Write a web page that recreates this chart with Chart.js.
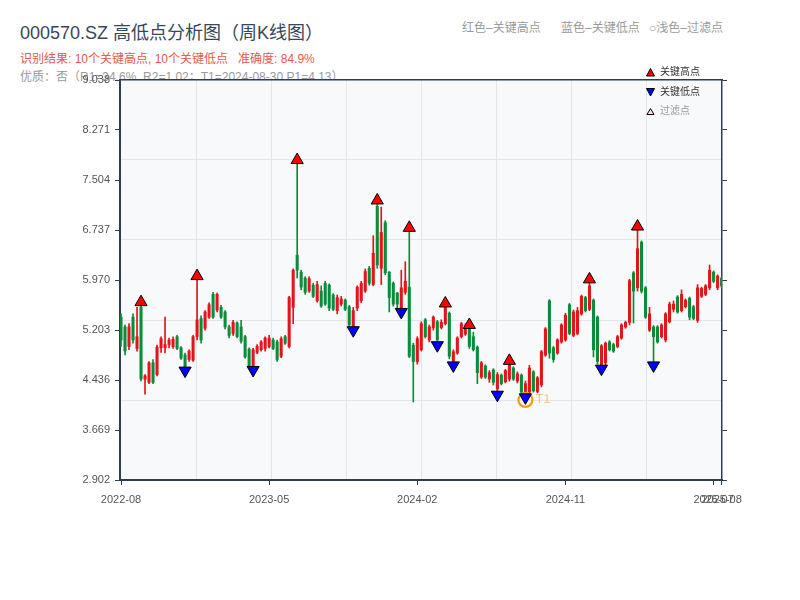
<!DOCTYPE html>
<html>
<head>
<meta charset="utf-8">
<script src="https://cdn.jsdelivr.net/npm/chart.js@4.4.1/dist/chart.umd.min.js"></script>
<style>
  html, body { margin:0; padding:0; background:#fff; }
  #wrap { position:relative; width:800px; height:600px; overflow:hidden;
          font-family:"Liberation Sans","Noto Sans CJK SC",sans-serif; }
  #c { position:absolute; left:0; top:0; z-index:1; }
  .t { position:absolute; white-space:pre; z-index:0; }
  .lg { position:absolute; white-space:pre; z-index:2; font-size:10px; line-height:12px; }
  .lg svg { position:absolute; left:0; top:2px; }
  .lg span { position:absolute; left:14px; top:0; }
</style>
</head>
<body>
<div id="wrap">
  <div class="t" style="left:20px;top:23px;font-size:18px;line-height:20px;color:#37475a;">000570.SZ 高低点分析图（周K线图）</div>
  <div class="t" style="left:20px;top:52px;font-size:12px;line-height:14px;color:#e8584c;">识别结果: 10个关键高点, 10个关键低点   准确度: 84.9%</div>
  <div class="t" style="left:20px;top:70px;font-size:12px;line-height:14px;color:#9a9a9a;">优质：否（R1=34.6%, R2=1.02；T1=2024-08-30 P1=4.13）</div>
  <div class="t" style="left:462px;top:21px;font-size:12px;line-height:14px;color:#9a9a9a;">红色–关键高点</div>
  <div class="t" style="left:561px;top:21px;font-size:12px;line-height:14px;color:#9a9a9a;">蓝色–关键低点</div>
  <div class="t" style="left:649px;top:21px;font-size:12px;line-height:14px;color:#9a9a9a;">○浅色–过滤点</div>
  <canvas id="c" width="800" height="600"></canvas>
  <div class="lg" style="left:646px;top:66px;width:70px;height:12px;">
    <svg width="9" height="9"><polygon points="4.5,0.5 8.5,8 0.5,8" fill="#ff0000" stroke="#000" stroke-width="1"/></svg>
    <span style="color:#333;">关键高点</span></div>
  <div class="lg" style="left:646px;top:86px;width:70px;height:12px;">
    <svg width="9" height="9"><polygon points="0.5,0.5 8.5,0.5 4.5,8" fill="#0000ff" stroke="#000" stroke-width="1"/></svg>
    <span style="color:#333;">关键低点</span></div>
  <div class="lg" style="left:646px;top:105px;width:70px;height:12px;">
    <svg width="9" height="9"><polygon points="4.5,1.5 8,7.5 1,7.5" fill="#ffe0e0" stroke="#000" stroke-width="1"/></svg>
    <span style="color:#999;">过滤点</span></div>
</div>
<script>
// ---- weekly candles (index 0 = week of 2022-08-05) ----
const opens = [
5.40,5.25,4.95,5.40,4.92,5.55,4.45,4.40,4.70,4.52,
4.93,4.93,4.98,4.95,5.10,4.93,4.82,4.75,4.74,5.10,
5.38,5.23,5.40,5.75,5.51,5.55,5.48,5.25,5.15,5.31,
5.25,5.10,4.91,4.65,4.86,4.90,4.92,4.95,5.05,5.02,
4.80,5.10,4.95,5.55,6.35,6.09,6.00,5.80,5.89,5.65,
5.80,5.92,5.89,5.74,5.50,5.60,5.66,5.56,5.20,5.54,
5.65,5.80,6.15,5.90,7.10,6.15,6.85,6.09,5.92,5.77,
5.52,5.78,5.86,4.97,4.72,4.90,5.36,5.05,5.24,5.33,
5.24,5.30,5.46,4.72,4.85,5.10,5.14,5.23,5.10,4.94,
4.48,4.65,4.45,4.59,4.30,4.51,4.41,4.45,4.62,4.42,
4.51,4.18,4.25,4.56,4.26,4.36,4.82,5.65,4.93,4.85,
5.02,5.05,5.59,5.12,5.15,5.45,5.70,5.52,5.66,5.40,
4.66,4.70,5.02,4.98,4.95,5.08,5.25,5.32,6.08,5.85,
6.55,5.85,5.20,5.25,5.25,5.10,5.05,5.33,5.52,5.71,
5.50,5.56,5.69,5.56,5.35,5.72,5.75,5.85,6.09,5.85,
6.00];
const closes = [
5.05,4.88,5.25,5.05,5.10,4.45,4.50,4.70,4.40,4.94,
5.07,4.98,5.05,5.06,4.92,4.77,4.62,4.88,5.10,5.36,
5.05,5.48,5.59,5.40,5.75,5.40,5.25,5.12,5.32,5.10,
5.03,4.79,4.65,4.90,4.95,5.02,5.08,5.08,4.92,4.75,
5.07,5.00,5.70,6.12,6.12,5.86,5.78,5.99,5.72,5.90,
5.57,5.60,5.54,5.52,5.70,5.68,5.52,5.28,5.50,5.86,
5.92,6.10,5.92,6.38,6.20,6.70,6.08,5.70,5.60,5.60,
5.85,5.95,4.80,4.72,5.07,5.30,5.10,5.25,5.40,5.05,
5.32,5.55,4.80,4.87,5.08,5.30,5.27,4.95,4.90,4.55,
4.70,4.48,4.55,4.40,4.52,4.38,4.58,4.66,4.45,4.53,
4.25,4.38,4.62,4.27,4.47,4.87,5.22,4.85,4.75,5.05,
5.28,5.43,5.15,5.48,5.50,5.72,5.50,5.88,4.90,4.72,
4.96,5.00,4.90,4.88,5.10,5.28,5.32,5.96,5.80,6.45,
5.80,5.40,5.45,5.10,5.02,5.28,5.45,5.60,5.60,5.48,
5.75,5.66,5.40,5.38,5.85,5.84,5.88,6.12,5.95,6.03,
5.88];
const highs = [
5.45,5.28,5.30,5.45,5.55,5.58,4.52,4.72,4.75,4.97,
5.10,5.40,5.08,5.10,5.12,4.95,4.85,4.90,5.12,5.97,
5.42,5.50,5.62,5.78,5.77,5.58,5.50,5.28,5.35,5.33,
5.35,5.12,4.93,4.92,4.98,5.04,5.10,5.12,5.08,5.05,
5.10,5.12,5.72,6.14,7.77,6.12,6.02,6.02,5.92,5.95,
5.88,5.95,5.91,5.76,5.74,5.72,5.68,5.58,5.55,5.88,
5.95,6.14,6.18,6.65,7.13,7.09,6.88,6.10,5.94,5.78,
6.12,6.25,6.72,5.00,5.10,5.33,5.38,5.28,5.42,5.35,
5.36,5.57,5.48,4.90,5.10,5.32,5.30,5.24,5.17,4.96,
4.72,4.67,4.58,4.61,4.55,4.53,4.60,4.70,4.64,4.56,
4.53,4.42,4.66,4.58,4.49,4.89,5.24,5.67,4.95,5.07,
5.30,5.46,5.61,5.51,5.55,5.74,5.72,5.95,5.68,5.42,
4.98,5.02,5.04,5.00,5.12,5.30,5.34,5.98,6.10,6.74,
6.57,5.87,5.55,5.27,5.27,5.30,5.47,5.63,5.65,5.73,
5.82,5.68,5.71,5.58,5.90,5.86,5.90,6.20,6.11,6.05,
6.02];
const lows = [
4.95,4.82,4.90,5.00,4.88,4.42,4.22,4.38,4.38,4.50,
4.86,4.85,4.93,4.92,4.90,4.75,4.60,4.72,4.72,5.05,
5.00,5.20,5.38,5.38,5.48,5.38,5.22,5.08,5.12,5.08,
5.00,4.77,4.62,4.62,4.84,4.88,4.88,4.93,4.90,4.72,
4.78,4.98,4.93,5.30,6.00,5.82,5.75,5.78,5.70,5.63,
5.55,5.58,5.50,5.50,5.45,5.57,5.50,5.25,5.18,5.50,
5.62,5.78,5.89,5.88,6.15,5.90,6.05,5.48,5.57,5.52,
5.50,5.75,4.78,4.10,4.68,4.88,5.08,5.02,5.20,5.02,
5.22,5.28,4.76,4.70,4.83,5.08,5.12,4.92,4.88,4.38,
4.46,4.46,4.40,4.36,4.26,4.36,4.39,4.42,4.43,4.39,
4.23,4.13,4.22,4.25,4.24,4.33,4.80,4.77,4.71,4.83,
5.00,5.03,5.13,5.10,5.13,5.43,5.48,5.50,4.79,4.68,
4.64,4.65,4.88,4.86,4.93,5.06,5.23,5.28,5.31,5.80,
5.77,5.38,5.18,4.70,5.00,5.08,5.02,5.31,5.48,5.46,
5.48,5.54,5.36,5.36,5.32,5.70,5.73,5.82,5.93,5.82,
5.85];

// ---- key points ----
const keyHighIdx = [5, 19, 44, 64, 72, 81, 87, 97, 117, 129];
const keyHighVal = [5.63, 6.03, 7.81, 7.19, 6.77, 5.61, 5.28, 4.73, 5.98, 6.79];
const keyLowIdx  = [16, 33, 58, 70, 79, 83, 94, 101, 120, 133];
const keyLowVal  = [4.58, 4.59, 5.20, 5.48, 4.97, 4.66, 4.21, 4.17, 4.61, 4.66];
const t1Idx = 101;
const t1Val = 4.13;

// ---- axes ----
const xTickIdx    = [0, 37, 74, 111, 148, 150];
const xTickLabels = ['2022-08', '2023-05', '2024-02', '2024-11', '2025-07', '2025-08'];
const yTickValues = [2.902, 3.669, 4.436, 5.203, 5.970, 6.737, 7.504, 8.271, 9.038];
const yGridValues = [4.129, 5.356, 6.584, 7.811];
const xGridValues = [18.75, 37.5, 56.25, 75, 93.75, 112.5, 131.25];
const yMin = 2.902, yMax = 9.038;
const xMin = -0.25, xMax = 150.1;

const UP = '#e3141b', DOWN = '#0a8c3c';
const AXIS = '#2c3e50';

const idx = opens.map((_, i) => i);
const candleColor = idx.map(i => closes[i] >= opens[i] ? UP : DOWN);

Chart.defaults.font.family = '"Liberation Sans","Noto Sans CJK SC",sans-serif';
Chart.defaults.font.size = 11;
Chart.defaults.color = '#555';

const bgPlugin = {
  id: 'plotBg',
  beforeDraw(chart) {
    const { ctx, chartArea: a } = chart;
    ctx.save();
    ctx.fillStyle = '#f7f9fb';
    ctx.fillRect(a.left, a.top, a.right - a.left, a.bottom - a.top);
    ctx.restore();
  }
};
const t1Plugin = {
  id: 't1Label',
  afterDatasetsDraw(chart) {
    const { ctx, scales } = chart;
    const px = scales.x.getPixelForValue(t1Idx) + 10;
    const py = scales.y.getPixelForValue(t1Val);
    ctx.save();
    ctx.font = '13px "Liberation Sans", sans-serif';
    ctx.fillStyle = 'rgba(243,166,60,0.6)';
    ctx.textBaseline = 'middle';
    ctx.fillText('T1', px, py - 1);
    ctx.restore();
  }
};

new Chart(document.getElementById('c'), {
  type: 'bar',
  data: {
    datasets: [
      {
        type: 'scatter', label: '关键低点', order: 0,
        data: keyLowIdx.map((v, k) => ({ x: v, y: keyLowVal[k] })),
        pointStyle: 'triangle', pointRotation: 180, pointRadius: 7,
        backgroundColor: '#0000ff', borderColor: '#000', borderWidth: 1
      },
      {
        type: 'scatter', label: '关键高点', order: 0,
        data: keyHighIdx.map((v, k) => ({ x: v, y: keyHighVal[k] })),
        pointStyle: 'triangle', pointRadius: 7,
        backgroundColor: '#ff0000', borderColor: '#000', borderWidth: 1
      },
      {
        type: 'scatter', label: 'T1', order: 1,
        data: [{ x: t1Idx, y: t1Val }],
        pointStyle: 'circle', pointRadius: 7,
        backgroundColor: 'rgba(0,0,0,0)', borderColor: '#f39c12', borderWidth: 2.2
      },
      {
        type: 'bar', label: 'body', order: 2, grouped: false,
        data: idx.map(i => ({ x: i, y: [opens[i], closes[i]] })),
        backgroundColor: candleColor, borderWidth: 0, barThickness: 2.4
      },
      {
        type: 'bar', label: 'wick', order: 3, grouped: false,
        data: idx.map(i => ({ x: i, y: [lows[i], highs[i]] })),
        backgroundColor: candleColor, borderWidth: 0, barThickness: 1
      }
    ]
  },
  options: {
    responsive: false,
    animation: false,
    events: [],
    layout: { padding: { top: 80, left: 0, right: 0, bottom: 0 } },
    plugins: { legend: { display: false }, tooltip: { enabled: false } },
    scales: {
      x: {
        type: 'linear', position: 'bottom', min: xMin, max: xMax, offset: false,
        afterBuildTicks: s => { s.ticks = xTickIdx.map(v => ({ value: v })); },
        afterFit: s => { s.height = 120; },
        ticks: { autoSkip: false, maxRotation: 0, padding: 8, color: '#555',
                 callback: (v, i) => xTickLabels[i] },
        grid: { drawOnChartArea: false, drawTicks: true, tickLength: 5, color: AXIS, offset: false },
        border: { display: true, color: AXIS, width: 2 }
      },
      xg: {
        type: 'linear', position: 'bottom', min: xMin, max: xMax, offset: false,
        afterBuildTicks: s => { s.ticks = xGridValues.map(v => ({ value: v })); },
        afterFit: s => { s.height = 0; },
        ticks: { display: false },
        grid: { drawOnChartArea: true, drawTicks: false, color: '#e2e6eb', lineWidth: 1, offset: false },
        border: { display: false }
      },
      xTop: {
        type: 'linear', position: 'top', min: xMin, max: xMax, offset: false,
        afterFit: s => { s.height = 0; },
        ticks: { display: false },
        grid: { display: false },
        border: { display: true, color: AXIS, width: 1.5 }
      },
      y: {
        type: 'linear', position: 'left', min: yMin, max: yMax,
        afterBuildTicks: s => { s.ticks = yTickValues.map(v => ({ value: v })); },
        afterFit: s => { s.width = 120; },
        ticks: { padding: 5, color: '#555', callback: v => Number(v).toFixed(3) },
        grid: { drawOnChartArea: false, drawTicks: true, tickLength: 5, color: AXIS },
        border: { display: true, color: AXIS, width: 2 }
      },
      yg: {
        type: 'linear', position: 'left', min: yMin, max: yMax,
        afterBuildTicks: s => { s.ticks = yGridValues.map(v => ({ value: v })); },
        afterFit: s => { s.width = 0; },
        ticks: { display: false },
        grid: { drawOnChartArea: true, drawTicks: false, color: '#e2e6eb', lineWidth: 1 },
        border: { display: false }
      },
      yR: {
        type: 'linear', position: 'right', min: yMin, max: yMax,
        afterBuildTicks: s => { s.ticks = yTickValues.map(v => ({ value: v })); },
        afterFit: s => { s.width = 78; },
        ticks: { display: true, callback: () => '' },
        grid: { drawOnChartArea: false, drawTicks: true, tickLength: 5, color: AXIS },
        border: { display: true, color: AXIS, width: 1.5 }
      }
    }
  },
  plugins: [bgPlugin, t1Plugin]
});
</script>
</body>
</html>
